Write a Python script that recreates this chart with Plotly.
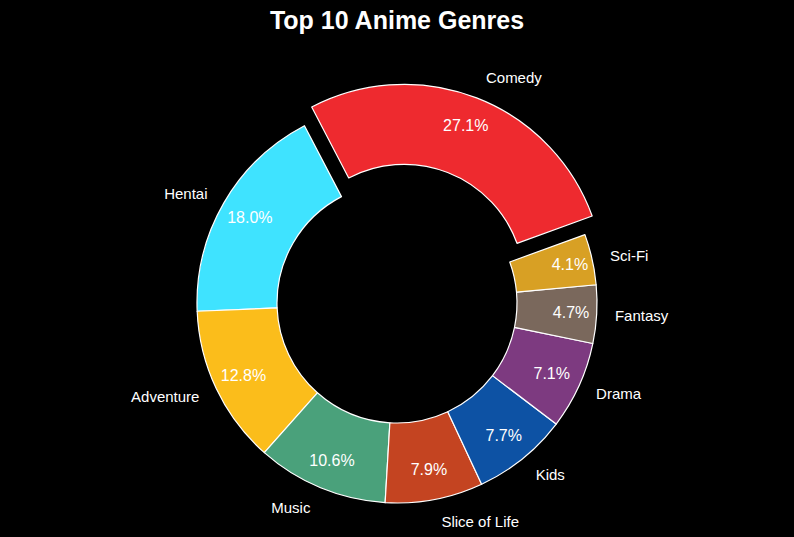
import plotly.graph_objects as go

genres = ["Comedy", "Hentai", "Adventure", "Music", "Slice of Life", "Kids", "Drama", "Fantasy", "Sci-Fi"]
shares = [27.1, 18.0, 12.8, 10.6, 7.9, 7.7, 7.1, 4.7, 4.1]
colors = ["#EE2A2F", "#3FE3FF", "#FBBD1B", "#4AA17B", "#C44421", "#0D52A4", "#7D3A80", "#7A685C", "#D8A024"]
pulls = [0.1, 0, 0, 0, 0, 0, 0, 0, 0]

W, H = 794, 537
cx, cy, R = 397, 303, 200
RL = 214
rot = -27.56
FONT = "Liberation Sans, Arial"


def dom(radius, pl):
    half = radius * (1 + max(pl))
    return dict(x=[(cx - half) / W, (cx + half) / W],
                y=[max(0, (H - cy - half) / H), min(1, (H - cy + half) / H)])


clear = ["rgba(0,0,0,0)"] * len(genres)
label_pulls = [p * R / RL for p in pulls]
fig = go.Figure()
fig.add_trace(go.Pie(
    labels=genres, values=shares, sort=False, direction="counterclockwise", rotation=rot,
    hole=0.6, pull=pulls,
    marker=dict(colors=colors, line=dict(color="white", width=1.2)),
    textinfo="none", domain=dom(R, pulls), showlegend=False, hoverinfo="skip",
))
fig.add_trace(go.Pie(
    labels=genres, values=shares, sort=False, direction="counterclockwise", rotation=rot,
    hole=0.7, pull=pulls,
    marker=dict(colors=clear, line=dict(width=0)),
    textinfo="percent", texttemplate="%{percent:.1%}", textposition="inside",
    insidetextorientation="horizontal",
    textfont=dict(family=FONT, size=16, color="white"),
    domain=dom(R, pulls), showlegend=False, hoverinfo="skip",
))
fig.add_trace(go.Pie(
    labels=genres, values=shares, sort=False, direction="counterclockwise", rotation=rot,
    hole=0.99, pull=label_pulls,
    marker=dict(colors=clear, line=dict(width=0)),
    textinfo="label", textposition="outside",
    outsidetextfont=dict(family=FONT, size=15, color="white"),
    domain=dom(RL, label_pulls), showlegend=False, hoverinfo="skip",
))
fig.update_layout(
    width=W, height=H, margin=dict(l=0, r=0, t=0, b=0, autoexpand=False),
    paper_bgcolor="black", plot_bgcolor="black",
    title=dict(text="<b>Top 10 Anime Genres</b>", x=0.5, xanchor="center",
               y=1 - 20 / H, yanchor="middle",
               font=dict(family=FONT, size=25, color="white")),
)
fig.write_html("out.html")
